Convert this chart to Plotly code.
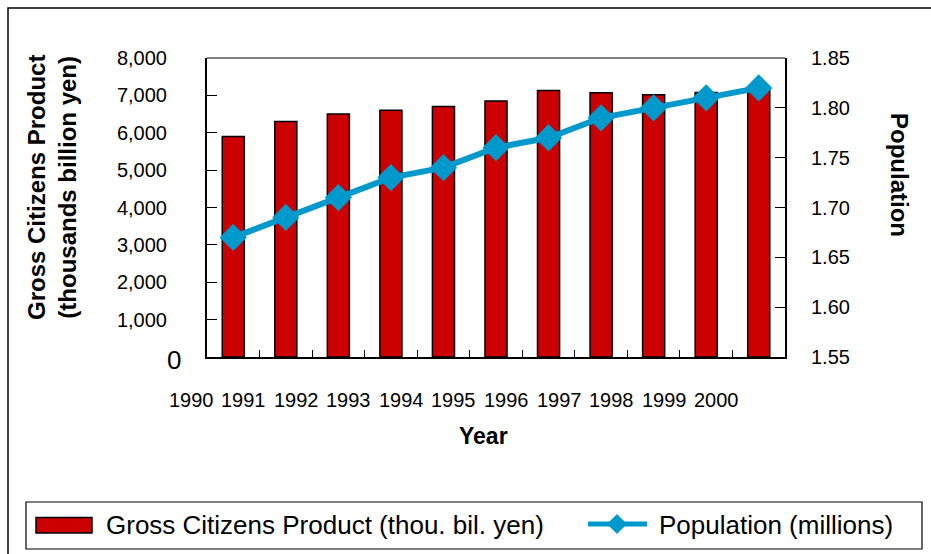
import plotly.graph_objects as go

# ---- data -------------------------------------------------------------
years = [1990, 1991, 1992, 1993, 1994, 1995, 1996, 1997, 1998, 1999, 2000]
gcp = [5900, 6300, 6500, 6600, 6700, 6850, 7130, 7070, 7020, 7080, 7150]
population = [1.67, 1.69, 1.71, 1.73, 1.74, 1.76, 1.77, 1.79, 1.80, 1.81, 1.82]
gcp_ticks = [1000, 2000, 3000, 4000, 5000, 6000, 7000, 8000]
pop_ticks = [1.55, 1.60, 1.65, 1.70, 1.75, 1.80, 1.85]

gcp_name = "Gross Citizens Product (thou. bil. yen)"
pop_name = "Population (millions)"

# ---- geometry helpers (pixel -> paper) -----------------------------------
W_FIG, H_FIG = 931, 554
L, R, T, B = 207, 146, 58, 197
PW = W_FIG - L - R
PH = H_FIG - T - B

X_RANGE = [years[0] - 0.5, years[-1] + 0.5]


def px(x):
    return (x - L) / PW


def py(y):
    return 1 - (y - T) / PH


def xdata_to_paper(v):
    return (v - X_RANGE[0]) / (X_RANGE[1] - X_RANGE[0])


FONT = "Arial, 'Liberation Sans', sans-serif"
RED = "#CC0000"
BLUE = "#0099CC"

fig = go.Figure()

fig.add_trace(go.Bar(
    x=years, y=gcp, name=gcp_name, width=0.42,
    marker=dict(color=RED, line=dict(color="black", width=1.5)),
    showlegend=False,
))

fig.add_trace(go.Scatter(
    x=years, y=population, name=pop_name, yaxis="y2",
    mode="lines+markers",
    line=dict(color=BLUE, width=6),
    marker=dict(symbol="diamond", size=21, color=BLUE),
    showlegend=False, cliponaxis=False,
))

# year labels sit slightly left of each bar
annotations = [
    dict(x=xdata_to_paper(yr - 0.8), y=py(400), xref="paper", yref="paper",
         text=str(yr), showarrow=False, xanchor="center", yanchor="middle",
         font=dict(family=FONT, size=20, color="black"))
    for yr in years
]

annotations += [
    dict(x=px(173.5), y=py(360), xref="paper", yref="paper", text="0",
         showarrow=False, xanchor="center", yanchor="middle",
         font=dict(family=FONT, size=26, color="black")),
    dict(x=px(483), y=py(436), xref="paper", yref="paper", text="<b>Year</b>",
         showarrow=False, xanchor="center", yanchor="middle",
         font=dict(family=FONT, size=23, color="black")),
    dict(x=px(52), y=py(188), xref="paper", yref="paper",
         text="<b>Gross Citizens Product<br>(thousands billion yen)</b>",
         showarrow=False, xanchor="center", yanchor="middle", textangle=-90,
         font=dict(family=FONT, size=24, color="black")),
    dict(x=px(900), y=py(175), xref="paper", yref="paper",
         text="<b>Population</b>",
         showarrow=False, xanchor="center", yanchor="middle", textangle=90,
         font=dict(family=FONT, size=24, color="black")),
    dict(x=px(104), y=py(525), xref="paper", yref="paper", text=gcp_name,
         showarrow=False, xanchor="left", yanchor="middle",
         font=dict(family=FONT, size=26, color="black")),
    dict(x=px(657), y=py(525), xref="paper", yref="paper", text=pop_name,
         showarrow=False, xanchor="left", yanchor="middle",
         font=dict(family=FONT, size=26, color="black")),
]

# diamond glyph for the legend
dcx, dcy, dhw, dhh = 617, 524, 10, 10
diamond_path = "M {} {} L {} {} L {} {} L {} {} Z".format(
    px(dcx - dhw), py(dcy), px(dcx), py(dcy - dhh),
    px(dcx + dhw), py(dcy), px(dcx), py(dcy + dhh))

shapes = [
    # outer frame
    dict(type="rect", xref="paper", yref="paper",
         x0=px(8), x1=px(960), y0=py(8), y1=py(600),
         line=dict(color="black", width=1.5), layer="below"),
    # top edge of plot area
    dict(type="line", xref="paper", yref="paper", x0=0, x1=1, y0=1, y1=1,
         line=dict(color="#555555", width=1.5)),
    # legend box
    dict(type="rect", xref="paper", yref="paper",
         x0=px(26), x1=px(922), y0=py(502), y1=py(549),
         line=dict(color="black", width=1.2)),
    dict(type="rect", xref="paper", yref="paper",
         x0=px(36), x1=px(92), y0=py(517.5), y1=py(533),
         fillcolor=RED, line=dict(color="black", width=1.5)),
    dict(type="line", xref="paper", yref="paper",
         x0=px(588), x1=px(647), y0=py(524), y1=py(524),
         line=dict(color=BLUE, width=5)),
    dict(type="path", xref="paper", yref="paper", path=diamond_path,
         fillcolor=BLUE, line=dict(color=BLUE, width=0)),
]

fig.update_layout(
    width=W_FIG, height=H_FIG,
    margin=dict(l=L, r=R, t=T, b=B, pad=0),
    paper_bgcolor="white", plot_bgcolor="white",
    font=dict(family=FONT, size=20, color="black"),
    xaxis=dict(
        range=X_RANGE,
        tickvals=[yr + 0.5 for yr in years[:-1]],
        showticklabels=False,
        ticks="inside", ticklen=7, tickwidth=1, tickcolor="black",
        showline=True, linecolor="black", linewidth=2,
        showgrid=False, zeroline=False, fixedrange=True,
    ),
    yaxis=dict(
        range=[0, 8000], tickvals=gcp_ticks, tickformat=",",
        ticks="inside", ticklen=10, tickwidth=1, tickcolor="black",
        showline=True, linecolor="black", linewidth=2,
        showgrid=False, zeroline=False,
        tickfont=dict(family=FONT, size=20, color="black"),
        ticklabelstandoff=34,
    ),
    yaxis2=dict(
        range=[1.55, 1.85], tickvals=pop_ticks, tickformat=".2f",
        overlaying="y", side="right",
        ticks="inside", ticklen=10, tickwidth=1, tickcolor="black",
        showline=True, linecolor="black", linewidth=2,
        showgrid=False, zeroline=False,
        tickfont=dict(family=FONT, size=20, color="black"),
        ticklabelstandoff=20,
    ),
    annotations=annotations,
    shapes=shapes,
    showlegend=False,
)

fig.write_html("out.html")
